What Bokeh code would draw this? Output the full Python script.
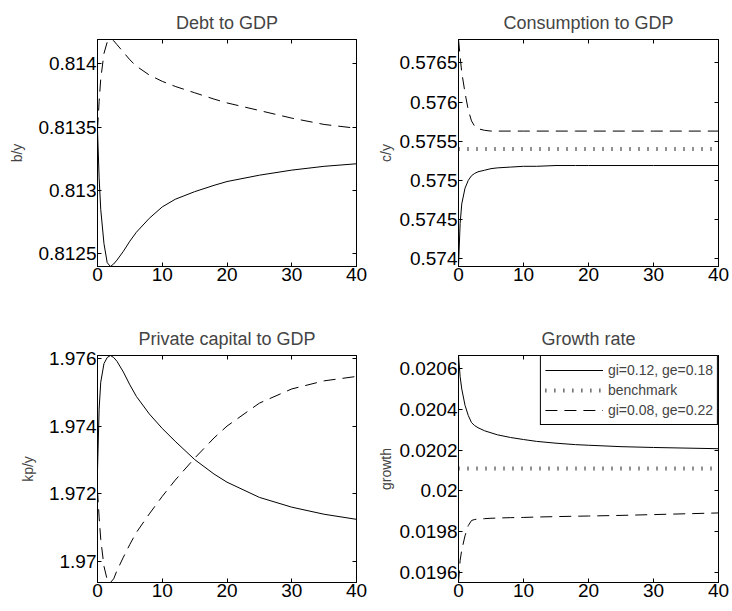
from bokeh.plotting import figure
from bokeh.models import Range1d, FixedTicker, LinearAxis, Legend, LegendItem
from bokeh.layouts import column, row
from bokeh.embed import file_html
from bokeh.resources import INLINE

FONT = "Liberation Sans"

# ---------------- data ----------------
t = [0, 0.25, 0.5, 1, 1.5, 2, 2.5, 3, 4, 5, 6, 8, 10, 12, 15, 18, 20, 25, 30, 35, 40]

debt_hi = [0.81348, 0.81310, 0.81285, 0.81258, 0.81243, 0.81240, 0.81242, 0.81245, 0.81252,
           0.81260, 0.81267, 0.81278, 0.81287, 0.81293, 0.81299, 0.81304, 0.81307, 0.81312,
           0.81316, 0.81319, 0.81321]
debt_lo = [0.81348, 0.81370, 0.81388, 0.81408, 0.81417, 0.81419, 0.81418, 0.81415, 0.81409,
           0.81403, 0.81398, 0.81391, 0.81386, 0.81382, 0.81377, 0.81372, 0.81369, 0.81363,
           0.81357, 0.81352, 0.81349]

cons_hi = [0.57390, 0.57445, 0.57470, 0.57490, 0.57500, 0.57506, 0.57509, 0.57511, 0.57513,
           0.57515, 0.57516, 0.57517, 0.57518, 0.57518, 0.57519, 0.57519, 0.57519, 0.57519,
           0.57519, 0.57519, 0.57519]
cons_lo = [0.57680, 0.57658, 0.57638, 0.57612, 0.57590, 0.57576, 0.57569, 0.57566, 0.57564,
           0.57563, 0.57563, 0.57563, 0.57563, 0.57563, 0.57563, 0.57563, 0.57563, 0.57563,
           0.57563, 0.57563, 0.57563]
cons_bench = [0.5754] * len(t)

kp_hi = [1.97270, 1.97450, 1.97530, 1.97585, 1.97603, 1.97609, 1.97603, 1.97592, 1.97560,
         1.97522, 1.97488, 1.97436, 1.97393, 1.97355, 1.97301, 1.97258, 1.97234, 1.97189,
         1.97160, 1.97139, 1.97124]
kp_lo = [1.97210, 1.97130, 1.97065, 1.96985, 1.96945, 1.96937, 1.96948, 1.96972, 1.97012,
         1.97050, 1.97085, 1.97140, 1.97192, 1.97240, 1.97305, 1.97365, 1.97400, 1.97468,
         1.97510, 1.97534, 1.97547]

gr_hi = [0.020664, 0.02056, 0.02050, 0.02042, 0.02037, 0.020335, 0.02032, 0.02031, 0.020295,
         0.020285, 0.020275, 0.020262, 0.020252, 0.020243, 0.020234, 0.020227, 0.020224,
         0.020217, 0.020213, 0.02021, 0.020207]
gr_lo = [0.019551, 0.01966, 0.01971, 0.01978, 0.01983, 0.019855, 0.01986, 0.019862, 0.019864,
         0.019866, 0.019867, 0.019869, 0.01987, 0.019872, 0.019874, 0.019876, 0.019877,
         0.01988, 0.019884, 0.019888, 0.019892]
gr_bench = [0.02011] * len(t)

x_ticks = [0, 10, 20, 30, 40]
debt_ticks = [0.8125, 0.813, 0.8135, 0.814]
debt_labels = ["0.8125", "0.813", "0.8135", "0.814"]
cons_ticks = [0.574, 0.5745, 0.575, 0.5755, 0.576, 0.5765]
cons_labels = ["0.574", "0.5745", "0.575", "0.5755", "0.576", "0.5765"]
kp_ticks = [1.97, 1.972, 1.974, 1.976]
kp_labels = ["1.97", "1.972", "1.974", "1.976"]
gr_ticks = [0.0196, 0.0198, 0.02, 0.0202, 0.0204, 0.0206]
gr_labels = ["0.0196", "0.0198", "0.02", "0.0202", "0.0204", "0.0206"]

legend_labels = ["gi=0.12, ge=0.18", "benchmark", "gi=0.08, ge=0.22"]

DASH = "12 7"
DOT = "1 8"


def style_axis(ax, ticks, show_labels, standoff):
    ax.ticker = FixedTicker(ticks=ticks)
    ax.major_tick_in = 4
    ax.major_tick_out = 0
    ax.minor_tick_line_color = None
    ax.axis_line_color = "black"
    ax.major_tick_line_color = "black"
    ax.major_label_text_font = FONT
    ax.major_label_text_color = "black"
    ax.major_label_standoff = standoff
    if show_labels:
        ax.major_label_text_font_size = "19px"
    else:
        ax.major_label_text_font_size = "0px"
        ax.major_label_standoff = 0


def make_fig(title, ylabel, series, yticks, ylabels, w, h, bl, br, bt, bb, lab_standoff):
    allv = [v for s in series for v in s]
    p = figure(width=w, height=h, output_backend="svg", toolbar_location=None,
               x_range=Range1d(0, 40), y_range=Range1d(min(allv), max(allv)),
               min_border_left=bl, min_border_right=br, min_border_top=bt,
               min_border_bottom=bb, title=title)
    p.title.text_font = FONT
    p.title.text_font_size = "18px"
    p.title.text_font_style = "normal"
    p.title.align = "center"
    p.title.standoff = 14
    p.outline_line_color = "black"
    p.outline_line_alpha = 1
    p.xgrid.grid_line_color = None
    p.ygrid.grid_line_color = None
    p.background_fill_color = "white"
    p.border_fill_color = "white"

    style_axis(p.xaxis[0], x_ticks, True, 1)
    style_axis(p.yaxis[0], yticks, True, 1)
    p.yaxis[0].major_label_overrides = dict(zip(yticks, ylabels))
    p.yaxis[0].axis_label = ylabel
    p.yaxis[0].axis_label_text_font = FONT
    p.yaxis[0].axis_label_text_font_size = "14px"
    p.yaxis[0].axis_label_text_font_style = "normal"
    p.yaxis[0].axis_label_standoff = lab_standoff

    right = LinearAxis()
    style_axis(right, yticks, False, 0)
    p.add_layout(right, "right")
    top = LinearAxis()
    style_axis(top, x_ticks, False, 0)
    p.add_layout(top, "above")
    return p


# page coordinates (the Bokeh page has no body margin)
W1, W2 = 374, 358
H1, H2 = 300, 311
FW1, FW2, FH = 259, 260, 227

p1 = make_fig("Debt to GDP", "b/y", [debt_hi, debt_lo], debt_ticks, debt_labels,
              W1, H1, 97, W1 - 97 - FW1, 39, H1 - 39 - FH, 10)
p1.line(t, debt_hi, line_color="black", line_width=1)
p1.line(t, debt_lo, line_color="black", line_width=1, line_dash=DASH)

p2 = make_fig("Consumption to GDP", "c/y", [cons_hi, cons_lo], cons_ticks, cons_labels,
              W2, H1, 84, W2 - 84 - FW2, 39, H1 - 39 - FH, 2)
p2.line(t, cons_hi, line_color="black", line_width=1)
p2.line(t, cons_bench, line_color="#222222", line_width=4, line_dash=DOT)
p2.line(t, cons_lo, line_color="black", line_width=1, line_dash=DASH)

p3 = make_fig("Private capital to GDP", "kp/y", [kp_hi, kp_lo], kp_ticks, kp_labels,
              W1, H2, 97, W1 - 97 - FW1, 55, H2 - 55 - FH, 10)
p3.line(t, kp_hi, line_color="black", line_width=1)
p3.line(t, kp_lo, line_color="black", line_width=1, line_dash=DASH)

p4 = make_fig("Growth rate", "growth", [gr_hi, gr_lo], gr_ticks, gr_labels,
              W2, H2, 84, W2 - 84 - FW2, 55, H2 - 55 - FH, 2)
r_hi = p4.line(t, gr_hi, line_color="black", line_width=1)
r_b = p4.line(t, gr_bench, line_color="#222222", line_width=4, line_dash=DOT)
r_lo = p4.line(t, gr_lo, line_color="black", line_width=1, line_dash=DASH)

legend = Legend(items=[LegendItem(label=legend_labels[0], renderers=[r_hi]),
                       LegendItem(label=legend_labels[1], renderers=[r_b]),
                       LegendItem(label=legend_labels[2], renderers=[r_lo])],
                location="top_right", margin=0, padding=4, spacing=0,
                glyph_width=58, glyph_height=20, label_height=20, label_standoff=5,
                label_text_font=FONT, label_text_font_size="14px",
                border_line_color="black", border_line_width=1, border_line_alpha=1,
                background_fill_color="white", background_fill_alpha=1)
p4.add_layout(legend)

layout = column(row(p1, p2), row(p3, p4))
open("out.html", "w").write(file_html(layout, INLINE))
